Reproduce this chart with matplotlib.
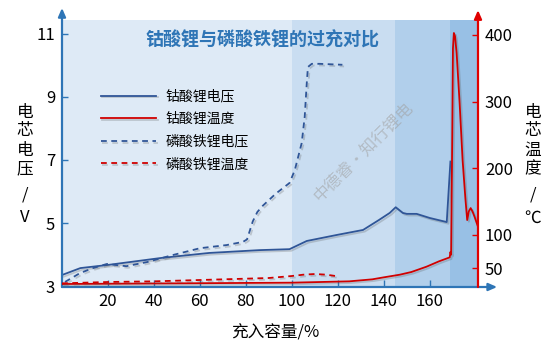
import matplotlib
matplotlib.use("Agg")
import matplotlib.pyplot as plt
import matplotlib.patheffects as pe
from matplotlib.lines import Line2D

plt.rcParams['font.family'] = ['Noto Sans CJK SC', 'DejaVu Sans']

# ---- data ----
lco_v_x = [0, 8, 20, 43, 64, 86, 99, 106.5, 119.5, 131, 138, 142.6, 145.2, 148.3, 150, 154.3, 160, 167.4, 169]
lco_v_y = [3.35, 3.57, 3.67, 3.89, 4.05, 4.14, 4.17, 4.43, 4.62, 4.78, 5.10, 5.32, 5.50, 5.32, 5.29, 5.29, 5.16, 5.03, 6.95]

lfp_v_x = [1.3, 7.8, 13.5, 19.5, 28, 37, 48, 60, 71.6, 78.7, 80.5, 83, 85, 87.4, 93, 99, 101.3, 104.3, 105.6, 106.5, 107, 108.7, 112, 122]
lfp_v_y = [3.13, 3.41, 3.57, 3.70, 3.63, 3.76, 3.98, 4.20, 4.30, 4.40, 4.48, 5.05, 5.35, 5.55, 5.93, 6.27, 6.68, 7.54, 8.37, 9.44, 9.95, 10.05, 10.05, 10.02]

lco_t_x = [0, 50, 100, 125, 135, 140, 147, 152, 158.6, 164, 168.7, 169.0, 169.3, 169.8, 170.1, 170.5, 171, 171.7, 173, 174.3, 175.5, 176.3, 177, 177.8, 178.6, 179.5, 181]
lco_t_y = [26, 27, 28, 30, 33, 36, 40, 44, 52, 60, 66, 74, 70, 250, 380, 403, 398, 373, 298, 212, 155, 122, 135, 140, 135, 127, 112]

lfp_t_x = [0, 20, 40, 60, 80, 90, 100, 105, 110, 115, 119]
lfp_t_y = [27, 29, 30, 32, 34, 35, 38, 40, 41, 40, 38]

x_ticks = [20, 40, 60, 80, 100, 120, 140, 160]
v_ticks = [3, 5, 7, 9, 11]
t_ticks = [50, 100, 200, 300, 400]
stage_edges = [0, 100, 145, 169, 181]
stage_colors = ['#deeaf6', '#c9ddf1', '#b1cfeb', '#98c0e5']

legend_labels = ['钴酸锂电压', '钴酸锂温度', '磷酸铁锂电压', '磷酸铁锂温度']

BLUE = '#2f5597'
RED = '#d00000'
AXBLUE = '#2e75b6'
AXRED = '#e00000'

W, H = 554, 354
fig = plt.figure(figsize=(W / 100, H / 100), dpi=100)
L, R, B, T = 62, 478, 287, 20
ax = fig.add_axes([L / W, 1 - B / H, (R - L) / W, (B - T) / H])
ax2 = ax.twinx()
ax2.patch.set_visible(False)

for i in range(len(stage_colors)):
    ax.axvspan(stage_edges[i], stage_edges[i + 1], color=stage_colors[i], lw=0, zorder=0)

shadow = [pe.SimpleLineShadow(offset=(1.2, -1.2), shadow_color='#555555', alpha=0.25), pe.Normal()]

ax.plot(lco_v_x, lco_v_y, color=BLUE, lw=1.3, zorder=3, path_effects=shadow)
ax.plot(lfp_v_x, lfp_v_y, color=BLUE, lw=1.3, ls=(0, (3.2, 2.5)), zorder=3, path_effects=shadow)
ax2.plot(lco_t_x, lco_t_y, color=RED, lw=1.3, zorder=3, path_effects=shadow)
ax2.plot(lfp_t_x, lfp_t_y, color=RED, lw=1.3, ls=(0, (3.2, 2.5)), zorder=3, path_effects=shadow)

ax.set_xlim(0, 181)
ax.set_ylim(2.97, 11.44)
ax2.set_ylim(21.5, 422.5)

for a in (ax, ax2):
    for s in a.spines.values():
        s.set_visible(False)

ax.set_xticks(x_ticks)
ax.set_yticks(v_ticks)
ax2.set_yticks(t_ticks)
ax.tick_params(axis='x', direction='in', length=5, width=1, color=AXBLUE, labelsize=12, pad=4)
ax.tick_params(axis='y', direction='in', length=4, width=1, color=AXBLUE, labelsize=12, pad=5)
ax2.tick_params(axis='y', direction='in', length=4, width=1, color=AXRED, labelsize=12, pad=5)

# axis lines with arrows
arr = dict(arrowstyle='-|>,head_length=0.5,head_width=0.22', lw=1.6, shrinkA=0, shrinkB=0)
ax.annotate('', xy=(0, 1.045), xytext=(0, 0), xycoords='axes fraction',
            arrowprops=dict(arr, color=AXBLUE), annotation_clip=False)
ax.annotate('', xy=(1.046, 0), xytext=(0, 0), xycoords='axes fraction',
            arrowprops=dict(arr, color=AXBLUE), annotation_clip=False)
ax2.annotate('', xy=(1, 1.037), xytext=(1, 0), xycoords='axes fraction',
             arrowprops=dict(arr, color=AXRED), annotation_clip=False)

# legend
handles = [Line2D([], [], color=BLUE, lw=1.3, path_effects=shadow),
           Line2D([], [], color=RED, lw=1.3, path_effects=shadow),
           Line2D([], [], color=BLUE, lw=1.3, ls=(0, (3.2, 2.5)), path_effects=shadow),
           Line2D([], [], color=RED, lw=1.3, ls=(0, (3.2, 2.5)), path_effects=shadow)]
leg = ax2.legend(handles, legend_labels, loc='upper left',
                 bbox_to_anchor=(88 / W, 1 - 77 / H), bbox_transform=fig.transFigure,
                 frameon=False, fontsize=10, handlelength=4.0, handletextpad=0.7,
                 labelspacing=0.62)

# title
fig.text(262 / W, 1 - 40 / H, '钴酸锂与磷酸铁锂的过充对比', ha='center', va='center',
         fontsize=13, fontweight='bold', color=AXBLUE)

# vertical stacked axis labels
left_chars = ['电', '芯', '电', '压', '/', 'V']
right_chars = ['电', '芯', '温', '度', '/', '℃']
ys = [112, 131, 150, 169, 195, 218]
for c, y in zip(left_chars, ys):
    fig.text(25 / W, 1 - y / H, c, ha='center', va='center', fontsize=12)
for c, y in zip(right_chars, ys):
    fig.text(533 / W, 1 - y / H, c, ha='center', va='center', fontsize=12)

fig.text(275 / W, 1 - 333 / H, '充入容量/%', ha='center', va='center', fontsize=12)

# watermark
fig.text(363 / W, 1 - 152 / H, '中德睿•知行锂电', ha='center', va='center', rotation=45,
         fontsize=12, color='#a0a0a0', alpha=0.55)

fig.savefig('out.png', dpi=100)
